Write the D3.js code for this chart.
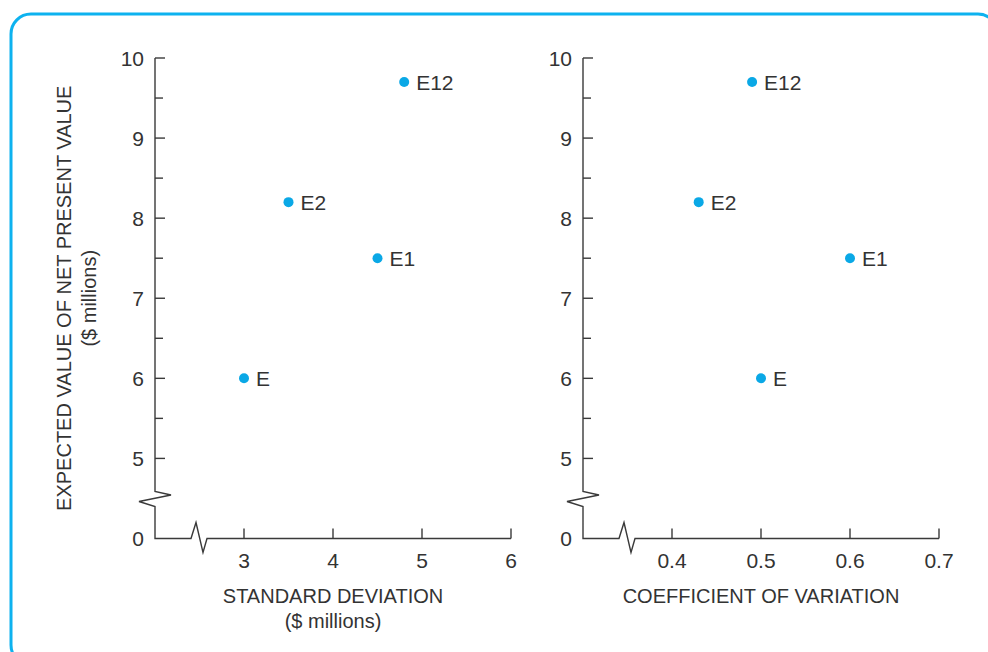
<!DOCTYPE html>
<html>
<head>
<meta charset="utf-8">
<script src="https://cdn.jsdelivr.net/npm/d3@7"></script>
<style>
  html, body { margin: 0; padding: 0; background: #fff; }
  svg { display: block; }
  text { font-family: "Liberation Sans", Arial, sans-serif; fill: #333; }
</style>
</head>
<body>
<svg id="chart" width="988" height="652"></svg>
<script>
// ---- Data ----
const labels = ["E", "E1", "E2", "E12"];
const stdDev = [3.0, 4.5, 3.5, 4.8];          // $ millions
const coefVar = [0.50, 0.60, 0.43, 0.49];
const expectedNPV = [6.0, 7.5, 8.2, 9.7];     // $ millions
const yTickValues = [5, 6, 7, 8, 9, 10];
const yMinorValues = [5.5, 6.5, 7.5, 8.5, 9.5];
const leftXTicks = [3, 4, 5, 6];
const rightXTicks = [0.4, 0.5, 0.6, 0.7];

const svg = d3.select("#chart");
const axisColor = "#3a3a3a";
const dotColor = "#0aa8e6";

// Frame
svg.append("rect")
  .attr("x", 11).attr("y", 14)
  .attr("width", 987).attr("height", 651)
  .attr("rx", 20).attr("ry", 20)
  .attr("fill", "none")
  .attr("stroke", "#0db2ef").attr("stroke-width", 3);

// Shared y scale (broken: the bottom "0" sits where 4 would be)
const y = d3.scaleLinear().domain([4, 10]).range([538.5, 58]);

function panel(x0, x1, xDomain, xTicks, xVals, xFormat, xTitle, xSub) {
  const x = d3.scaleLinear().domain(xDomain).range([x0, x1]);
  const g = svg.append("g");
  const ax = x0, base = y(4);

  // y axis with break, then x axis with break
  const p = d3.path();
  p.moveTo(ax, y(10));
  p.lineTo(ax, base - 47);
  p.lineTo(ax + 16, base - 43.5);
  p.lineTo(ax - 16, base - 37);
  p.lineTo(ax, base - 32);
  p.lineTo(ax, base);
  p.lineTo(ax + 36, base);
  p.lineTo(ax + 41, base - 16);
  p.lineTo(ax + 48, base + 14);
  p.lineTo(ax + 52, base);
  p.lineTo(x1, base);
  g.append("path").attr("d", p.toString())
    .attr("fill", "none").attr("stroke", axisColor).attr("stroke-width", 1.4);

  // y ticks (inside)
  g.selectAll(".ymaj").data(yTickValues).join("line")
    .attr("x1", ax).attr("x2", ax + 10)
    .attr("y1", d => y(d)).attr("y2", d => y(d))
    .attr("stroke", axisColor).attr("stroke-width", 1.4);
  g.selectAll(".ymin").data(yMinorValues).join("line")
    .attr("x1", ax).attr("x2", ax + 8)
    .attr("y1", d => y(d)).attr("y2", d => y(d))
    .attr("stroke", axisColor).attr("stroke-width", 1.4);
  g.selectAll(".ylab").data(yTickValues).join("text")
    .attr("x", ax - 11).attr("y", d => y(d))
    .attr("dy", "0.36em")
    .attr("text-anchor", "end")
    .attr("font-size", 21)
    .text(d => d);
  g.append("text")
    .attr("x", ax - 11).attr("y", base).attr("dy", "0.36em")
    .attr("text-anchor", "end").attr("font-size", 21).text("0");

  // x ticks (inside)
  g.selectAll(".xmaj").data(xTicks).join("line")
    .attr("x1", d => x(d)).attr("x2", d => x(d))
    .attr("y1", base).attr("y2", base - 10)
    .attr("stroke", axisColor).attr("stroke-width", 1.4);
  g.selectAll(".xlab").data(xTicks).join("text")
    .attr("x", d => x(d)).attr("y", base + 29)
    .attr("text-anchor", "middle").attr("font-size", 21)
    .text(xFormat);

  // x title
  const cx = (x0 + x1) / 2;
  g.append("text").attr("x", cx).attr("y", 603)
    .attr("text-anchor", "middle").attr("font-size", 20).text(xTitle);
  if (xSub) {
    g.append("text").attr("x", cx).attr("y", 628)
      .attr("text-anchor", "middle").attr("font-size", 20).text(xSub);
  }

  // points
  const pts = labels.map((l, i) => ({ l, xv: xVals[i], yv: expectedNPV[i] }));
  g.selectAll(".pt").data(pts).join("circle")
    .attr("cx", d => x(d.xv)).attr("cy", d => y(d.yv))
    .attr("r", 5).attr("fill", dotColor);
  g.selectAll(".ptl").data(pts).join("text")
    .attr("x", d => x(d.xv) + 12).attr("y", d => y(d.yv))
    .attr("dy", "0.36em").attr("font-size", 21)
    .text(d => d.l);
}

panel(155, 511, [2, 6], leftXTicks, stdDev, d => d, "STANDARD DEVIATION", "($ millions)");
panel(583, 939, [0.3, 0.7], rightXTicks, coefVar, d => d.toFixed(1), "COEFFICIENT OF VARIATION", null);

// y title
const yMid = (y(10) + y(4)) / 2;
svg.append("text")
  .attr("transform", `translate(71,${yMid}) rotate(-90)`)
  .attr("text-anchor", "middle").attr("font-size", 20)
  .text("EXPECTED VALUE OF NET PRESENT VALUE");
svg.append("text")
  .attr("transform", `translate(96,${yMid}) rotate(-90)`)
  .attr("text-anchor", "middle").attr("font-size", 20)
  .text("($ millions)");
</script>
</body>
</html>
